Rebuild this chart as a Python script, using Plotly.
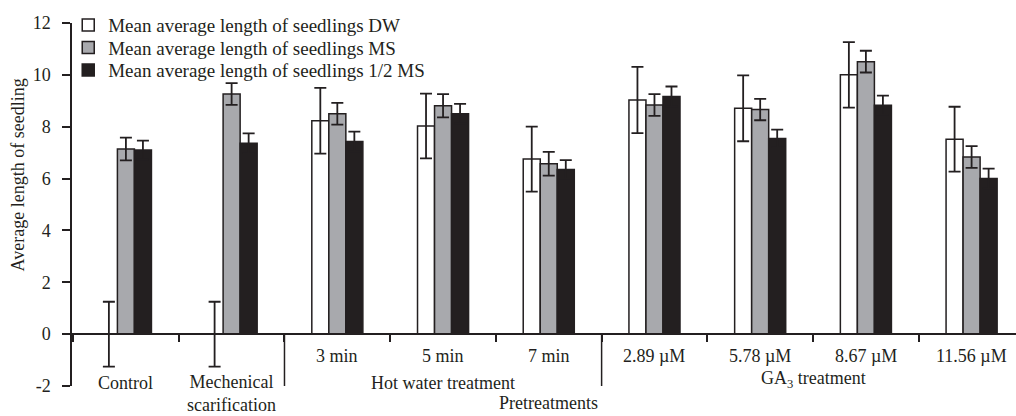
import plotly.graph_objects as go

# ---------------- data ----------------
categories = ["Control", "Mechenical scarification", "3 min", "5 min", "7 min",
              "2.89 µM", "5.78 µM", "8.67 µM", "11.56 µM"]
series_names = ["Mean average length of seedlings DW",
                "Mean average length of seedlings MS",
                "Mean average length of seedlings 1/2 MS"]
dw_values = [0.0, 0.0, 8.23, 8.03, 6.75, 9.03, 8.71, 10.0, 7.52]
dw_errors = [1.25, 1.25, 1.27, 1.25, 1.25, 1.28, 1.27, 1.26, 1.25]
ms_values = [7.14, 9.26, 8.50, 8.81, 6.57, 8.84, 8.66, 10.51, 6.83]
ms_errors = [0.44, 0.42, 0.42, 0.45, 0.46, 0.42, 0.41, 0.42, 0.42]
hms_values = [7.10, 7.36, 7.43, 8.50, 6.35, 9.17, 7.55, 8.83, 6.00]
hms_errors = [0.36, 0.38, 0.38, 0.38, 0.36, 0.38, 0.34, 0.37, 0.38]

# sub-labels shown directly under the zero line, and group labels below
sub_labels = ["", "", "3 min", "5 min", "7 min", "2.89 µM", "5.78 µM", "8.67 µM", "11.56 µM"]
group_labels = ["Control", "Mechenical<br>scarification", "Hot water treatment", "GA<sub>3</sub> treatment"]
group_sizes = [1, 1, 3, 4]
separator_after_groups = [1, 2]   # long separators after these groups (index)
x_title = "Pretreatments"
y_title = "Average length of seedling"
y_tick_values = [-2, 0, 2, 4, 6, 8, 10, 12]
y_tick_labels = ["-2", "0", "2", "4", "6", "8", "10", "12"]

# ---------------- style ----------------
INK = "#231f20"
FONT = "Liberation Serif, Times New Roman, serif"
colors = ["#ffffff", "#a8a9ad", INK]
legend_ids = ["legend", "legend2", "legend3"]
legend_y = [0.994, 0.932, 0.870]   # paper positions of the three legend rows

fig = go.Figure()
for name, vals, errs, col, lid in zip(series_names, [dw_values, ms_values, hms_values],
                                      [dw_errors, ms_errors, hms_errors], colors, legend_ids):
    fig.add_trace(go.Bar(
        x=categories, y=vals, name=name, legend=lid,
        marker=dict(color=col, line=dict(color=INK, width=1.5)),
        error_y=dict(type="data", array=errs, symmetric=True,
                     color=INK, thickness=1.8, width=6),
    ))

# annotations: sub labels
for cat, lab in zip(categories, sub_labels):
    if lab:
        fig.add_annotation(x=cat, y=-0.83, xref="x", yref="y", text=lab,
                           showarrow=False, font=dict(size=18, color=INK, family=FONT))

# group labels, centred over their categories (paper y: 0 = bottom of plot)
start = 0
group_centers = []
for size in group_sizes:
    group_centers.append(start + (size - 1) / 2)
    start += size
group_y = [0.008, -0.022, 0.008, 0.017]
for lab, cx, gy in zip(group_labels, group_centers, group_y):
    fig.add_annotation(x=cx, y=gy, xref="x", yref="paper", text=lab, showarrow=False,
                       yanchor="middle", font=dict(size=18, color=INK, family=FONT))

# long separators between groups
cum = []
s = 0
for size in group_sizes:
    s += size
    cum.append(s)
for gi in separator_after_groups:
    bx = cum[gi] - 0.5
    fig.add_shape(type="line", xref="x", yref="y", x0=bx, x1=bx, y0=0, y1=-2.02,
                  line=dict(color=INK, width=1.5))

# x title
fig.add_annotation(x=(len(categories) - 1) / 2, y=-0.046, xref="x", yref="paper", text=x_title,
                   showarrow=False, yanchor="middle", font=dict(size=18, color=INK, family=FONT))
# y title
fig.add_annotation(x=-0.0572, y=6.12, xref="paper", yref="y", text=y_title, textangle=-90,
                   showarrow=False, xanchor="center", yanchor="middle",
                   font=dict(size=18, color=INK, family=FONT))

legend_common = dict(x=-0.004, xanchor="left", yanchor="middle", bgcolor="rgba(0,0,0,0)",
                     font=dict(size=19, family=FONT, color=INK), itemwidth=30)

fig.update_layout(
    width=1016, height=416,
    margin=dict(l=72, r=0, t=23, b=30),
    paper_bgcolor="white", plot_bgcolor="white",
    barmode="group", bargap=0.517, bargroupgap=0,
    font=dict(family=FONT, size=18, color=INK),
    showlegend=True,
    legend=dict(y=legend_y[0], **legend_common),
    legend2=dict(y=legend_y[1], **legend_common),
    legend3=dict(y=legend_y[2], **legend_common),
    xaxis=dict(type="category", range=[-0.51, 8.42], anchor="free", position=2 / 14,
               showline=True, linecolor=INK, linewidth=1.5,
               ticks="outside", tickson="boundaries", ticklen=7, tickwidth=1.5, tickcolor=INK,
               showticklabels=False, showgrid=False, zeroline=False),
    yaxis=dict(range=[-2, 12], domain=[0, 1], showline=True, linecolor=INK, linewidth=1.5,
               ticks="outside", ticklen=8, tickwidth=1.5, tickcolor=INK,
               tickvals=y_tick_values, ticktext=y_tick_labels, ticklabelstandoff=8,
               tickfont=dict(size=18, family=FONT, color=INK),
               showgrid=False, zeroline=False),
)

fig.write_html("out.html")
